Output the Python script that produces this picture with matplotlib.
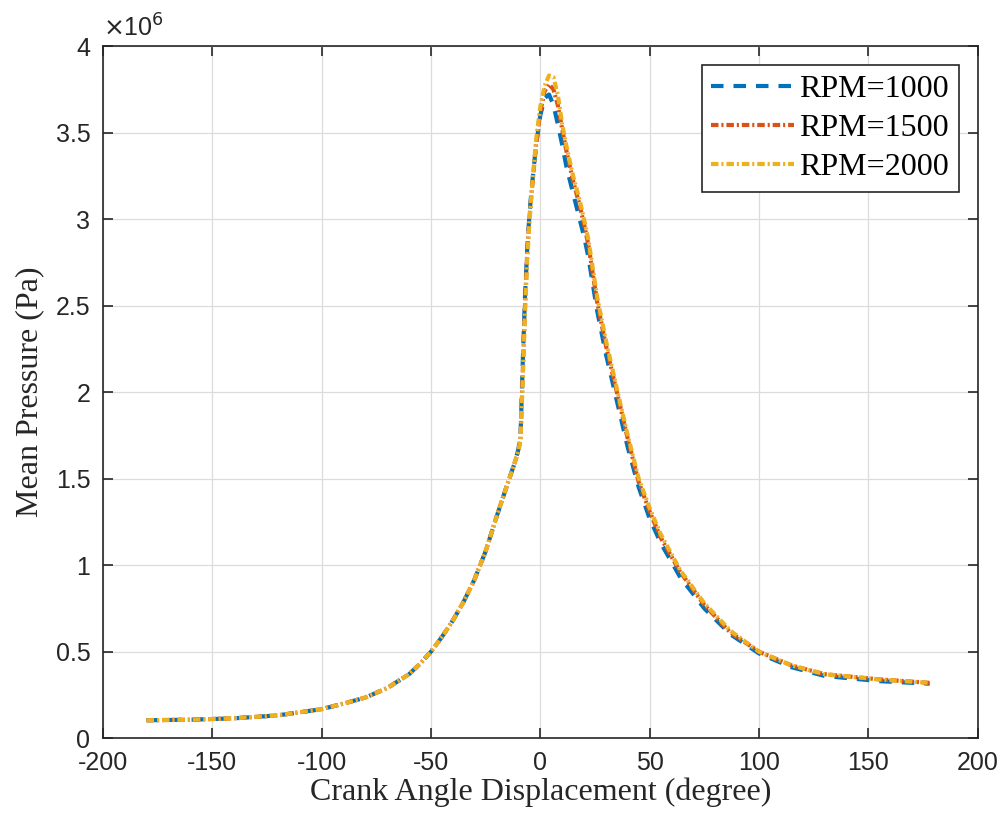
import matplotlib.pyplot as plt
from matplotlib.ticker import FuncFormatter
import numpy as np

# crank angle (deg) and mean pressure (x1e6 Pa) for each engine speed
angles = [-180, -160, -140, -120, -100, -90, -80, -70, -60, -55, -50, -45, -40, -35,
          -30, -25, -20, -15, -12, -10, -9, -8, -7, -6, -5, -4, -2, 0, 2, 4, 6, 8, 10,
          12, 15, 18, 20, 22, 26, 30, 35, 40, 45, 50, 55, 64, 75, 87, 100, 115, 130,
          155, 178]

p_1000 = [0.104, 0.107, 0.115, 0.132, 0.168, 0.20, 0.235, 0.29, 0.37, 0.43, 0.50,
          0.585, 0.68, 0.79, 0.92, 1.08, 1.28, 1.47, 1.58, 1.67, 1.76, 2.18, 2.55,
          2.82, 3.02, 3.17, 3.42, 3.60, 3.70, 3.72, 3.66, 3.55, 3.43, 3.30, 3.15,
          3.00, 2.90, 2.78, 2.47, 2.22, 1.95, 1.68, 1.45, 1.27, 1.13, 0.93, 0.75,
          0.60, 0.49, 0.41, 0.36, 0.33, 0.315]
p_1500 = [0.104, 0.107, 0.115, 0.132, 0.168, 0.20, 0.235, 0.29, 0.37, 0.43, 0.50,
          0.585, 0.68, 0.79, 0.92, 1.08, 1.28, 1.47, 1.58, 1.66, 1.74, 2.12, 2.50,
          2.80, 3.00, 3.15, 3.42, 3.62, 3.74, 3.78, 3.75, 3.66, 3.52, 3.39, 3.22,
          3.08, 2.97, 2.85, 2.52, 2.27, 2.00, 1.73, 1.48, 1.31, 1.16, 0.96, 0.77,
          0.61, 0.50, 0.42, 0.37, 0.34, 0.32]
p_2000 = [0.104, 0.107, 0.115, 0.132, 0.168, 0.20, 0.235, 0.29, 0.37, 0.43, 0.50,
          0.585, 0.68, 0.79, 0.92, 1.08, 1.28, 1.47, 1.58, 1.66, 1.73, 2.08, 2.45,
          2.76, 2.98, 3.15, 3.45, 3.65, 3.77, 3.83, 3.82, 3.72, 3.55, 3.42, 3.25,
          3.11, 3.00, 2.88, 2.55, 2.30, 2.02, 1.75, 1.50, 1.33, 1.18, 0.97, 0.78,
          0.62, 0.50, 0.42, 0.37, 0.34, 0.32]

labels = ["RPM=1000", "RPM=1500", "RPM=2000"]
colors = ["#0072BD", "#D95319", "#EDB120"]

x_ticks = np.arange(-200, 201, 50)
y_ticks = np.arange(0, 4.01, 0.5) * 1e6

serif = ["Liberation Serif", "DejaVu Serif"]
sans = ["Liberation Sans", "DejaVu Sans"]

fig = plt.figure(figsize=(10.08, 8.23), dpi=100)
ax = fig.add_axes([0.102, 0.103, 0.868, 0.841])

a = np.array(angles)
dash = (0, (3.0, 2.4))
dashdot = (0, (1.8, 0.7, 0.5, 0.7))
ax.plot(a, np.array(p_1000) * 1e6, color=colors[0], lw=3, linestyle=dash,
        label=labels[0])
ax.plot(a, np.array(p_1500) * 1e6, color=colors[1], lw=3, linestyle=dashdot,
        label=labels[1])
ax.plot(a, np.array(p_2000) * 1e6, color=colors[2], lw=3, linestyle=dashdot,
        label=labels[2])

ax.set_xlim(-200, 200)
ax.set_ylim(0, 4e6)
ax.set_xticks(x_ticks)
ax.set_yticks(y_ticks)
ax.yaxis.set_major_formatter(FuncFormatter(lambda v, p: f"{v / 1e6:g}"))
ax.xaxis.set_major_formatter(FuncFormatter(lambda v, p: f"{v:g}"))

ax.grid(True, color="#dcdcdc", lw=0.9)
ax.set_axisbelow(True)
ax.tick_params(direction="in", length=7, width=1.2, top=True, right=True,
               labelsize=18, colors="#262626")
ax.tick_params(axis="x", pad=9)
ax.tick_params(axis="y", pad=9)
for lab in ax.get_xticklabels() + ax.get_yticklabels():
    lab.set_family(sans)
for s in ax.spines.values():
    s.set_color("#262626")
    s.set_linewidth(1.2)

ax.text(0.0, 1.006, r"$\times$10$^{6}$", transform=ax.transAxes, fontsize=18,
        family=sans, color="#262626", ha="left", va="bottom")

ax.set_xlabel("Crank Angle Displacement (degree)", family=serif, fontsize=23,
              color="#262626", labelpad=2)
ax.set_ylabel("Mean Pressure (Pa)", family=serif, fontsize=23, color="#262626",
              labelpad=8)

leg = ax.legend(loc="upper right", prop={"family": serif, "size": 23},
                handlelength=2.6, handletextpad=0.15, borderpad=0.3,
                labelspacing=0.3, fancybox=False, framealpha=1,
                edgecolor="#262626", borderaxespad=0.6)
leg.get_frame().set_linewidth(1.2)

fig.savefig("out.png", dpi=100)
